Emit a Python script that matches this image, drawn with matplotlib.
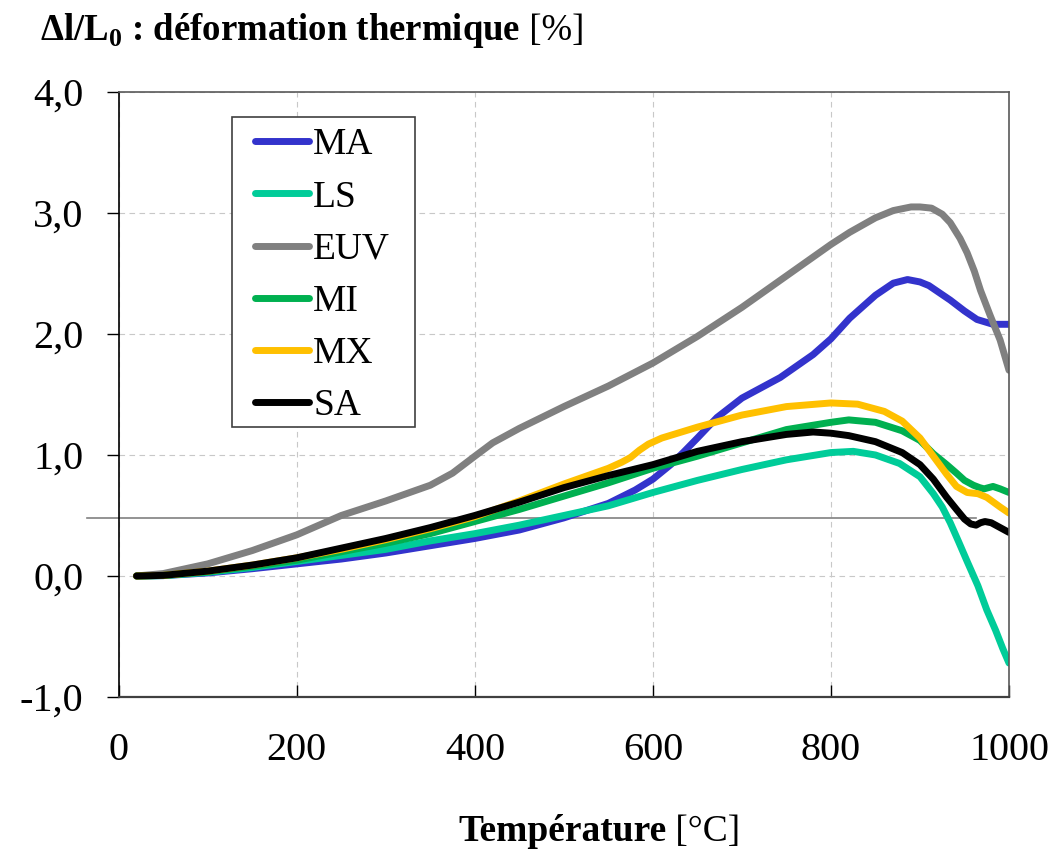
import matplotlib
matplotlib.use('Agg')
import matplotlib.pyplot as plt
from matplotlib.patches import Rectangle

plt.rcParams['font.family'] = ['Liberation Serif', 'DejaVu Serif']
plt.rcParams['mathtext.fontset'] = 'custom'
plt.rcParams['mathtext.rm'] = 'Liberation Serif'
plt.rcParams['mathtext.bf'] = 'Liberation Serif:bold'

# values (temperature in °C, strain in %)
t_ma = [20, 50, 100, 150, 200, 250, 300, 350, 400, 450, 500, 550, 580, 600, 620, 634, 650,
        672, 700, 743, 780, 800, 821, 850, 870, 886, 900, 910, 934, 950, 964, 982, 1000]
ma = [0, 0.003, 0.025, 0.06, 0.10, 0.14, 0.19, 0.25, 0.31, 0.38, 0.48, 0.60, 0.71, 0.80,
      0.92, 1.02, 1.14, 1.31, 1.47, 1.64, 1.83, 1.96, 2.13, 2.32, 2.42, 2.45, 2.43, 2.40,
      2.28, 2.19, 2.12, 2.08, 2.08]

t_ls = [20, 50, 100, 150, 200, 250, 300, 350, 400, 450, 500, 550, 600, 650, 700, 750,
        800, 825, 850, 877, 900, 915, 925, 934, 943, 953, 965, 975, 985, 993, 1000]
ls = [0, 0.003, 0.03, 0.07, 0.12, 0.17, 0.22, 0.29, 0.35, 0.42, 0.50, 0.58, 0.69, 0.79,
      0.88, 0.96, 1.02, 1.03, 1.00, 0.93, 0.82, 0.68, 0.57, 0.44, 0.29, 0.12, -0.08,
      -0.28, -0.45, -0.60, -0.72]

t_euv = [20, 50, 100, 150, 200, 250, 300, 350, 375, 400, 420, 450, 500, 550, 600, 650,
         700, 750, 800, 821, 850, 870, 890, 900, 913, 925, 934, 945, 953, 961, 968, 979,
         990, 1000]
euv = [0, 0.02, 0.10, 0.21, 0.34, 0.50, 0.62, 0.75, 0.85, 0.99, 1.10, 1.22, 1.40, 1.57,
       1.76, 1.98, 2.22, 2.48, 2.74, 2.84, 2.96, 3.02, 3.05, 3.05, 3.04, 2.99, 2.92, 2.79,
       2.67, 2.52, 2.36, 2.15, 1.95, 1.70]

t_mi = [20, 50, 100, 150, 200, 250, 300, 350, 400, 450, 500, 550, 600, 650, 700, 750,
        800, 820, 850, 880, 900, 915, 930, 941, 950, 960, 967, 972, 977, 982, 990, 1000]
mi = [0, 0.004, 0.035, 0.08, 0.13, 0.20, 0.27, 0.35, 0.45, 0.55, 0.66, 0.77, 0.89, 0.99,
      1.10, 1.21, 1.27, 1.29, 1.27, 1.20, 1.12, 1.01, 0.92, 0.85, 0.79, 0.75, 0.73, 0.72,
      0.73, 0.74, 0.72, 0.69]

t_mx = [20, 50, 100, 150, 200, 250, 300, 350, 400, 450, 500, 550, 565, 575, 585, 595,
        610, 650, 700, 750, 800, 830, 860, 880, 900, 915, 930, 941, 953, 965, 975, 990, 1000]
mx = [0, 0.005, 0.04, 0.09, 0.15, 0.22, 0.30, 0.39, 0.49, 0.62, 0.76, 0.89, 0.94, 0.98,
      1.04, 1.09, 1.14, 1.23, 1.33, 1.40, 1.43, 1.42, 1.36, 1.28, 1.14, 0.99, 0.84, 0.74,
      0.69, 0.68, 0.65, 0.57, 0.52]

t_sa = [20, 50, 100, 150, 200, 250, 300, 350, 400, 450, 500, 550, 600, 650, 700, 750,
        780, 800, 820, 850, 880, 900, 915, 930, 941, 950, 957, 963, 968, 973, 980, 990, 1000]
sa = [0, 0.005, 0.04, 0.09, 0.15, 0.23, 0.31, 0.40, 0.50, 0.61, 0.73, 0.83, 0.92, 1.03,
      1.11, 1.17, 1.19, 1.18, 1.16, 1.11, 1.02, 0.92, 0.80, 0.65, 0.55, 0.47, 0.43, 0.42,
      0.44, 0.45, 0.44, 0.40, 0.36]

series = [('MA', t_ma, ma, '#3333CC'),
          ('LS', t_ls, ls, '#00CC99'),
          ('EUV', t_euv, euv, '#808080'),
          ('MI', t_mi, mi, '#00B050'),
          ('MX', t_mx, mx, '#FFC000'),
          ('SA', t_sa, sa, '#000000')]

ref_level = 0.48          # thin horizontal reference line
ref_span = (-36, 963)

x_ticks = [0, 200, 400, 600, 800, 1000]
y_ticks = [-1, 0, 1, 2, 3, 4]
y_labels = ['-1,0', '0,0', '1,0', '2,0', '3,0', '4,0']


def main():
    fig = plt.figure(figsize=(10.58, 8.51), dpi=100)
    ax = fig.add_axes([0.1122, 0.1810, 0.8415, 0.7109])

    ax.grid(True, color='#c8c8c8', linestyle=(0, (5, 4)), linewidth=0.8)
    ax.set_axisbelow(True)

    ax.plot(ref_span, [ref_level, ref_level], color='#808080', lw=1.2,
            clip_on=False, zorder=1.5)

    for name, t, v, c in series:
        ax.plot(t, v, color=c, lw=5, label=name, solid_capstyle='round',
                solid_joinstyle='round')

    ax.set_xlim(0, 1000)
    ax.set_ylim(-1, 4)
    ax.set_xticks(x_ticks)
    ax.set_xticklabels([str(x) for x in x_ticks])
    ax.set_yticks(y_ticks)
    ax.set_yticklabels(y_labels)
    ax.tick_params(axis='x', direction='in', length=8.5, width=1, labelsize=29, pad=25)
    ax.tick_params(axis='y', direction='out', length=8.5, width=1, labelsize=29, pad=17)

    ax.spines['left'].set_color('black')
    ax.spines['left'].set_linewidth(1.2)
    ax.spines['bottom'].set_color('#404040')
    ax.spines['bottom'].set_linewidth(1.6)
    for s in ('top', 'right'):
        ax.spines[s].set_color('#595959')
        ax.spines[s].set_linewidth(1.2)

    # legend box drawn separately, entries placed inside it
    ax.add_patch(Rectangle((0.1273, 0.4463), 0.2056, 0.5124, transform=ax.transAxes,
                           facecolor='white', edgecolor='#404040', lw=1.2, zorder=4))
    leg = ax.legend(loc='upper left', bbox_to_anchor=(0.1531, 0.9405), borderaxespad=0,
                    fontsize=27, handlelength=1.45, handletextpad=0.1, labelspacing=0.47,
                    borderpad=0, frameon=False)
    leg.set_zorder(5)

    # axis titles: bold part followed by a regular unit part
    t1 = fig.text(40 / 1058, 1 - 40 / 851, r'Δl/L$_\mathbf{0}$ : déformation thermique',
                  fontsize=26.5, fontweight='bold', va='baseline', ha='left')
    t2 = fig.text(458 / 1058, 1 - 841 / 851, 'Température', fontsize=27,
                  fontweight='bold', va='baseline', ha='left')
    fig.canvas.draw()
    r = fig.canvas.get_renderer()
    for t, unit, size in ((t1, ' [%]', 26.5), (t2, ' [°C]', 27)):
        bb = t.get_window_extent(r)
        x = fig.transFigure.inverted().transform((bb.x1, 0))[0]
        fig.text(x, t.get_position()[1], unit, fontsize=size, va='baseline', ha='left')

    fig.savefig('out.png', dpi=100)


if __name__ == '__main__':
    main()
